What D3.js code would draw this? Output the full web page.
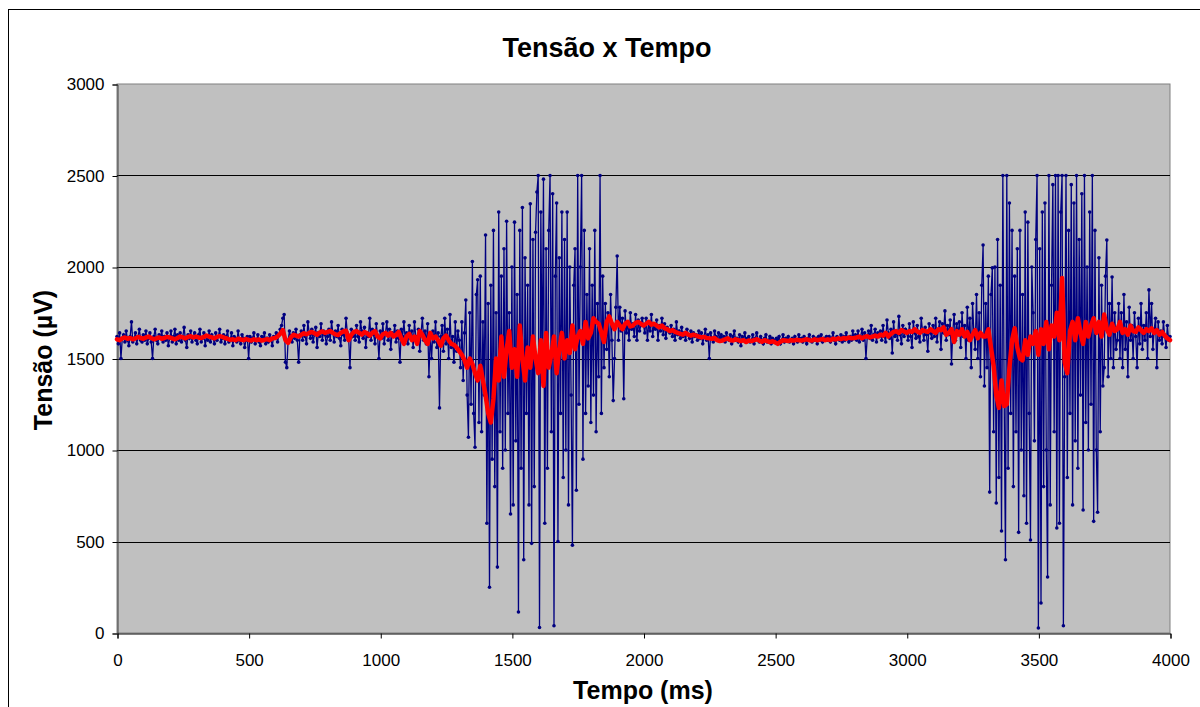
<!DOCTYPE html>
<html>
<head>
<meta charset="utf-8">
<script src="https://cdn.jsdelivr.net/npm/d3@7"></script>
<style>
  body { margin: 0; background: #fff; }
  text { font-family: Arial, "Liberation Sans", sans-serif; }
</style>
</head>
<body>
<div id="chart"></div>
<script>
// sample step of each series (ms)
const blueStep = 5
const redStep = 10

// raw signal, one value every 5 ms, rows of 100 ms
const tensao = [
  1620,1580,1640,1500,1610,1630,1590,1650,1600,1570,1620,1700,1590,1610,1640,1580,1620,1660,1600,1590,
  1630,1600,1650,1580,1610,1640,1590,1500,1620,1660,1600,1580,1630,1610,1650,1590,1620,1600,1640,1570,
  1610,1650,1590,1620,1660,1580,1630,1600,1640,1590,1620,1670,1600,1560,1630,1610,1650,1590,1620,1640,
  1600,1580,1630,1660,1590,1610,1640,1570,1620,1600,1650,1590,1630,1610,1580,1640,1600,1620,1660,1590,
  1610,1630,1580,1620,1650,1590,1600,1640,1570,1620,1610,1590,1650,1600,1580,1630,1610,1560,1600,1620,
  1500,1620,1590,1610,1640,1580,1600,1630,1590,1570,1620,1600,1640,1580,1610,1590,1630,1600,1570,1620,
  1610,1640,1590,1630,1660,1680,1720,1740,1480,1450,1600,1650,1620,1590,1640,1610,1660,1600,1480,1630,
  1650,1600,1680,1620,1580,1700,1640,1610,1660,1590,1630,1670,1560,1640,1620,1690,1600,1650,1630,1580,
  1620,1660,1600,1700,1640,1590,1650,1620,1680,1610,1570,1660,1630,1600,1720,1640,1610,1450,1660,1620,
  1640,1600,1680,1620,1590,1700,1650,1610,1670,1560,1640,1620,1720,1600,1660,1630,1580,1690,1620,1500,
  1650,1610,1690,1580,1640,1700,1600,1660,1550,1640,1620,1680,1590,1650,1610,1480,1660,1620,1700,1600,
  1640,1580,1680,1610,1650,1560,1700,1620,1590,1660,1540,1640,1720,1600,1650,1580,1690,1400,1630,1500,
  1650,1590,1700,1560,1640,1230,1620,1680,1540,1720,1580,1660,1500,1740,1560,1620,1480,1700,1540,1650,
  1600,1450,1700,1380,1640,1820,1300,1070,1750,1250,2030,1200,1015,1850,1930,1150,1950,1100,1700,1300,
  2175,600,1800,250,1900,950,2200,800,1750,360,2300,1100,1950,900,2100,1000,2250,1200,1750,650,
  2000,700,2245,1050,1850,115,2200,900,2325,400,2050,1200,1900,700,2345,490,2150,800,2190,2410,
  2500,30,2300,1400,2480,600,2100,900,2200,2500,1100,2400,40,1950,2350,500,2050,1200,2300,850,
  2150,1000,2300,700,2000,1300,480,1900,2100,780,2500,1250,2000,2500,950,2200,1200,1850,1350,2100,
  1150,1900,1300,2200,1100,1800,1400,2500,1200,1950,1450,1800,1550,1750,1400,1850,1600,1270,1500,1780,
  2060,1600,1780,1650,1720,1280,1760,1640,1700,1600,1750,1660,1690,1620,1740,1600,1710,1650,1680,1720,
  1680,1640,1720,1600,1700,1650,1740,1620,1690,1660,1710,1600,1680,1650,1720,1630,1690,1610,1670,1650,
  1640,1680,1620,1660,1600,1700,1630,1650,1610,1670,1620,1640,1600,1660,1630,1610,1650,1590,1640,1620,
  1630,1600,1650,1610,1640,1580,1620,1660,1600,1630,1500,1640,1610,1590,1650,1620,1600,1640,1610,1630,
  1600,1620,1590,1640,1610,1600,1630,1580,1620,1650,1600,1610,1590,1630,1570,1620,1600,1640,1590,1610,
  1620,1590,1600,1630,1580,1610,1640,1600,1590,1620,1600,1580,1610,1630,1590,1600,1620,1580,1610,1600,
  1590,1610,1600,1620,1580,1600,1630,1590,1610,1600,1620,1590,1600,1610,1580,1620,1600,1590,1630,1600,
  1610,1590,1620,1600,1580,1610,1630,1600,1590,1620,1600,1610,1580,1620,1600,1630,1590,1610,1600,1620,
  1600,1620,1590,1610,1640,1600,1580,1620,1610,1600,1630,1590,1620,1600,1640,1610,1590,1620,1600,1650,
  1610,1630,1600,1650,1590,1620,1660,1600,1640,1500,1620,1650,1610,1680,1600,1630,1660,1590,1640,1620,
  1650,1600,1680,1620,1590,1710,1640,1610,1660,1530,1700,1620,1650,1600,1730,1630,1580,1680,1620,1660,
  1640,1600,1690,1620,1560,1700,1640,1610,1680,1620,1590,1720,1650,1600,1670,1630,1540,1690,1640,1610,
  1680,1620,1720,1590,1660,1700,1550,1690,1640,1760,1600,1680,1630,1710,1470,1650,1740,1600,1690,1630,
  1700,1560,1750,1620,1680,1500,1780,1600,1720,1450,1800,1640,1550,1850,1500,1750,1400,1900,2120,1350,
  1800,1450,1950,770,1850,1995,1100,2000,710,2150,850,1900,557,2500,1300,400,2500,900,2350,1200,
  2200,800,1950,1100,2100,550,2200,1000,1850,750,2300,600,2245,1200,508,2000,1750,1050,2150,2500,
  27,2100,164,2300,800,2350,1000,306,2500,700,1900,2450,1100,2500,574,2500,600,2300,2500,40,
  1400,2500,850,2200,1200,2450,700,2350,1050,2500,900,2150,1300,2400,672,2500,1150,2000,1000,2300,
  1250,2500,610,2200,1000,660,2050,1100,1900,1350,1450,1950,2147,1400,1800,1500,1945,1450,1750,1550,
  1600,1800,1500,1750,1450,1850,1550,1700,1400,1780,1600,1680,1500,1750,1620,1450,1720,1580,1800,1550,
  1680,1600,1750,1500,1875,1620,1800,1550,1660,1720,1450,1700,1600,1650,1580,1700,1620,1560,1680,1600,
  1620
]

// smoothed signal, one value every 10 ms
const media = [
  1605,1600,1610,1615,1608,1612,1605,1610,1618,1612,
  1608,1615,1620,1612,1605,1610,1615,1608,1612,1618,
  1615,1610,1605,1612,1620,1615,1610,1618,1622,1615,
  1620,1615,1612,1618,1625,1620,1615,1610,1618,1622,
  1618,1612,1608,1602,1605,1600,1608,1604,1600,1606,
  1602,1598,1605,1600,1604,1598,1602,1606,1600,1610,
  1612,1620,1635,1655,1600,1585,1615,1630,1625,1620,
  1630,1638,1632,1640,1645,1638,1630,1642,1648,1640,
  1645,1650,1640,1632,1628,1640,1648,1652,1600,1630,
  1645,1650,1640,1630,1645,1638,1625,1640,1650,1620,
  1610,1632,1640,1625,1640,1620,1628,1645,1610,1580,
  1620,1635,1600,1620,1580,1650,1630,1600,1580,1640,
  1610,1620,1600,1570,1610,1625,1600,1580,1575,1560,
  1540,1520,1490,1450,1500,1470,1420,1380,1460,1380,
  1300,1200,1150,1280,1500,1380,1620,1400,1550,1650,
  1450,1550,1400,1680,1500,1380,1560,1450,1620,1500,
  1420,1600,1350,1640,1450,1520,1620,1420,1550,1640,
  1500,1600,1530,1680,1550,1620,1650,1580,1700,1610,
  1640,1720,1700,1690,1640,1590,1700,1730,1690,1660,
  1700,1680,1660,1690,1700,1675,1680,1695,1700,1690,
  1680,1690,1700,1685,1690,1680,1670,1680,1665,1660,
  1650,1655,1645,1640,1635,1630,1640,1630,1625,1630,
  1625,1620,1615,1618,1612,1610,1608,1612,1600,1595,
  1598,1605,1610,1600,1598,1605,1600,1595,1600,1590,
  1598,1595,1600,1605,1598,1592,1600,1595,1590,1594,
  1588,1580,1592,1600,1598,1595,1600,1598,1602,1600,
  1598,1602,1605,1600,1598,1605,1600,1603,1606,1600,
  1605,1600,1608,1604,1610,1606,1612,1608,1615,1610,
  1612,1615,1620,1610,1618,1622,1615,1620,1625,1620,
  1630,1625,1640,1620,1635,1645,1650,1640,1655,1648,
  1640,1650,1645,1660,1648,1640,1655,1650,1645,1660,
  1650,1640,1660,1655,1670,1630,1640,1660,1590,1650,
  1630,1660,1620,1645,1600,1630,1655,1610,1640,1620,
  1620,1660,1560,1460,1300,1230,1380,1240,1250,1450,
  1600,1665,1560,1500,1490,1600,1520,1620,1580,1650,
  1520,1660,1580,1700,1550,1680,1620,1750,1600,1940,
  1480,1420,1650,1700,1600,1720,1640,1580,1700,1620,
  1680,1720,1640,1700,1620,1740,1660,1630,1690,1650,
  1660,1700,1640,1660,1630,1680,1650,1645,1670,1655,
  1640,1660,1650,1665,1640,1655,1630,1645,1625,1610,
  1600
]

const xTicks = [0, 500, 1000, 1500, 2000, 2500, 3000, 3500, 4000]
const yTicks = [0, 500, 1000, 1500, 2000, 2500, 3000]

const width = 1200
const height = 707
const plot = { left: 117, right: 1170, top: 84, bottom: 633 }

const svg = d3.select("#chart")
  .append("svg")
    .attr("width", width)
    .attr("height", height)

// outer chart frame (runs off the right and bottom edges)
svg.append("rect")
  .attr("x", 8.5)
  .attr("y", 9.5)
  .attr("width", 1220)
  .attr("height", 720)
  .attr("fill", "#fff")
  .attr("stroke", "#000")

const x = d3.scaleLinear().domain([0, 4000]).range([plot.left, plot.right])
const y = d3.scaleLinear().domain([0, 3000]).range([plot.bottom, plot.top])

// plot area
svg.append("rect")
  .attr("x", plot.left)
  .attr("y", plot.top)
  .attr("width", plot.right - plot.left)
  .attr("height", plot.bottom - plot.top)
  .attr("fill", "#c0c0c0")
  .attr("stroke", "#808080")

// horizontal grid lines
svg.append("g")
  .selectAll("line")
  .data(yTicks.filter(d => d > 0 && d < 3000))
  .join("line")
    .attr("x1", plot.left)
    .attr("x2", plot.right)
    .attr("y1", d => Math.round(y(d)) + 0.5)
    .attr("y2", d => Math.round(y(d)) + 0.5)
    .attr("stroke", "#000")

// axes
const yAxis = svg.append("g")
  .attr("transform", `translate(${plot.left + 0.5},0.5)`)
  .call(d3.axisLeft(y).tickValues(yTicks).tickSize(5).tickPadding(8).tickFormat(d3.format("d")))
yAxis.select(".domain").attr("stroke", "#404040")

const xAxis = svg.append("g")
  .attr("transform", `translate(0.5,${plot.bottom + 0.5})`)
  .call(d3.axisBottom(x).tickValues(xTicks).tickSize(5).tickPadding(15).tickFormat(d3.format("d")))

svg.selectAll(".tick text")
  .attr("font-size", 17)
  .attr("font-family", "Arial, 'Liberation Sans', sans-serif")
  .attr("fill", "#000")

// series points
const pontos = tensao.map((v, i) => ({ t: i * blueStep, v: v }))
const pontosMedia = media.map((v, i) => ({ t: i * redStep, v: v }))

const line = d3.line()
  .x(d => x(d.t))
  .y(d => y(d.v))

svg.append("path")
  .datum(pontos)
  .attr("d", line)
  .attr("fill", "none")
  .attr("stroke", "#000080")
  .attr("stroke-width", 1.3)

svg.append("g")
  .selectAll("circle")
  .data(pontos)
  .join("circle")
    .attr("cx", d => x(d.t))
    .attr("cy", d => y(d.v))
    .attr("r", 1.8)
    .attr("fill", "#000080")

svg.append("path")
  .datum(pontosMedia)
  .attr("d", line)
  .attr("fill", "none")
  .attr("stroke", "#ff0000")
  .attr("stroke-width", 4.5)
  .attr("stroke-linejoin", "round")
  .attr("stroke-linecap", "round")

// titles
svg.append("text")
  .attr("x", 607)
  .attr("y", 57)
  .attr("text-anchor", "middle")
  .attr("font-size", 27)
  .attr("font-weight", 700)
  .text("Tensão x Tempo")

svg.append("text")
  .attr("x", 643)
  .attr("y", 699)
  .attr("text-anchor", "middle")
  .attr("font-size", 25)
  .attr("font-weight", 700)
  .text("Tempo (ms)")

svg.append("text")
  .attr("transform", "translate(52,360) rotate(-90)")
  .attr("text-anchor", "middle")
  .attr("font-size", 25)
  .attr("font-weight", 700)
  .text("Tensão (µV)")
</script>
</body>
</html>
